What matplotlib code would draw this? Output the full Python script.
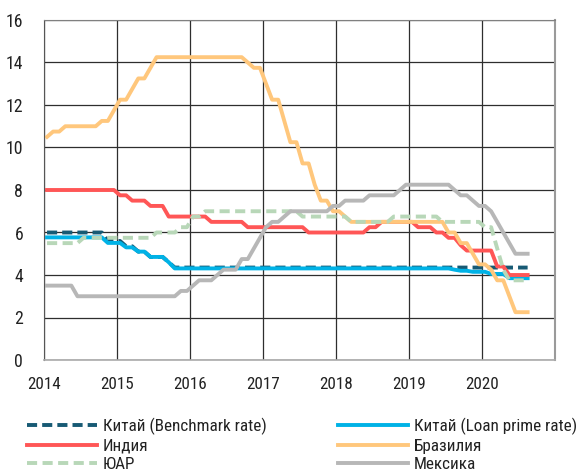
import matplotlib
matplotlib.use("Agg")
import matplotlib.pyplot as plt
import numpy as np

plt.rcParams['font.family'] = ['Roboto Condensed', 'PT Sans', 'DejaVu Sans']

# Monthly observations, Jan 2014 .. Aug 2020
start_year = 2014
china_benchmark = [6.0, 6.0, 6.0, 6.0, 6.0, 6.0, 6.0, 6.0, 6.0, 6.0,
                   5.6, 5.6, 5.6, 5.35, 5.35, 5.1, 5.1, 4.85, 4.85, 4.85,
                   4.6, 4.35, 4.35, 4.35, 4.35, 4.35, 4.35, 4.35, 4.35, 4.35,
                   4.35, 4.35, 4.35, 4.35, 4.35, 4.35, 4.35, 4.35, 4.35, 4.35,
                   4.35, 4.35, 4.35, 4.35, 4.35, 4.35, 4.35, 4.35, 4.35, 4.35,
                   4.35, 4.35, 4.35, 4.35, 4.35, 4.35, 4.35, 4.35, 4.35, 4.35,
                   4.35, 4.35, 4.35, 4.35, 4.35, 4.35, 4.35, 4.35, 4.35, 4.35,
                   4.35, 4.35, 4.35, 4.35, 4.35, 4.35, 4.35, 4.35, 4.35, 4.35]
china_lpr = [5.77, 5.77, 5.77, 5.77, 5.77, 5.77, 5.77, 5.77, 5.77, 5.77,
             5.51, 5.51, 5.51, 5.3, 5.3, 5.1, 5.1, 4.85, 4.85, 4.85,
             4.6, 4.31, 4.31, 4.31, 4.31, 4.31, 4.31, 4.31, 4.31, 4.31,
             4.31, 4.31, 4.31, 4.31, 4.31, 4.31, 4.31, 4.31, 4.31, 4.31,
             4.31, 4.31, 4.31, 4.31, 4.31, 4.31, 4.31, 4.31, 4.31, 4.31,
             4.31, 4.31, 4.31, 4.31, 4.31, 4.31, 4.31, 4.31, 4.31, 4.31,
             4.31, 4.31, 4.31, 4.31, 4.31, 4.31, 4.31, 4.25, 4.2, 4.2,
             4.15, 4.15, 4.15, 4.05, 4.05, 4.05, 3.85, 3.85, 3.85, 3.85]
india = [8.0, 8.0, 8.0, 8.0, 8.0, 8.0, 8.0, 8.0, 8.0, 8.0,
         8.0, 8.0, 7.75, 7.75, 7.5, 7.5, 7.5, 7.25, 7.25, 7.25,
         6.75, 6.75, 6.75, 6.75, 6.75, 6.75, 6.75, 6.5, 6.5, 6.5,
         6.5, 6.5, 6.5, 6.25, 6.25, 6.25, 6.25, 6.25, 6.25, 6.25,
         6.25, 6.25, 6.25, 6.0, 6.0, 6.0, 6.0, 6.0, 6.0, 6.0,
         6.0, 6.0, 6.0, 6.25, 6.25, 6.5, 6.5, 6.5, 6.5, 6.5,
         6.5, 6.25, 6.25, 6.25, 6.0, 6.0, 5.75, 5.75, 5.4, 5.15,
         5.15, 5.15, 5.15, 5.15, 4.4, 4.4, 4.0, 4.0, 4.0, 4.0]
brazil = [10.5, 10.75, 10.75, 11.0, 11.0, 11.0, 11.0, 11.0, 11.0, 11.25,
          11.25, 11.75, 12.25, 12.25, 12.75, 13.25, 13.25, 13.75, 14.25, 14.25,
          14.25, 14.25, 14.25, 14.25, 14.25, 14.25, 14.25, 14.25, 14.25, 14.25,
          14.25, 14.25, 14.25, 14.0, 13.75, 13.75, 13.0, 12.25, 12.25, 11.25,
          10.25, 10.25, 9.25, 9.25, 8.25, 7.5, 7.5, 7.0, 7.0, 6.75,
          6.5, 6.5, 6.5, 6.5, 6.5, 6.5, 6.5, 6.5, 6.5, 6.5,
          6.5, 6.5, 6.5, 6.5, 6.5, 6.5, 6.0, 6.0, 5.5, 5.5,
          5.0, 4.5, 4.5, 4.25, 3.75, 3.75, 3.0, 2.25, 2.25, 2.25]
south_africa = [5.5, 5.5, 5.5, 5.5, 5.5, 5.5, 5.75, 5.75, 5.75, 5.75,
                5.75, 5.75, 5.75, 5.75, 5.75, 5.75, 5.75, 5.75, 6.0, 6.0,
                6.0, 6.0, 6.25, 6.25, 6.75, 6.75, 7.0, 7.0, 7.0, 7.0,
                7.0, 7.0, 7.0, 7.0, 7.0, 7.0, 7.0, 7.0, 7.0, 7.0,
                7.0, 7.0, 6.75, 6.75, 6.75, 6.75, 6.75, 6.75, 6.75, 6.75,
                6.5, 6.5, 6.5, 6.5, 6.5, 6.5, 6.5, 6.75, 6.75, 6.75,
                6.75, 6.75, 6.75, 6.75, 6.75, 6.5, 6.5, 6.5, 6.5, 6.5,
                6.5, 6.5, 6.25, 6.25, 5.25, 4.25, 3.75, 3.75, 3.75, 3.75]
mexico = [3.5, 3.5, 3.5, 3.5, 3.5, 3.0, 3.0, 3.0, 3.0, 3.0,
          3.0, 3.0, 3.0, 3.0, 3.0, 3.0, 3.0, 3.0, 3.0, 3.0,
          3.0, 3.0, 3.25, 3.25, 3.5, 3.75, 3.75, 3.75, 4.0, 4.25,
          4.25, 4.25, 4.75, 4.75, 5.25, 5.75, 6.25, 6.5, 6.5, 6.75,
          7.0, 7.0, 7.0, 7.0, 7.0, 7.0, 7.0, 7.25, 7.25, 7.5,
          7.5, 7.5, 7.5, 7.75, 7.75, 7.75, 7.75, 7.75, 8.0, 8.25,
          8.25, 8.25, 8.25, 8.25, 8.25, 8.25, 8.25, 8.0, 7.75, 7.75,
          7.5, 7.25, 7.25, 7.0, 6.5, 6.0, 5.5, 5.0, 5.0, 5.0]

labels = ['Китай (Benchmark rate)', 'Китай (Loan prime rate)', 'Индия',
          'Бразилия', 'ЮАР', 'Мексика']
year_ticks = [2014, 2015, 2016, 2017, 2018, 2019, 2020]
y_ticks = [0, 2, 4, 6, 8, 10, 12, 14, 16]

n = len(brazil)
x = start_year + (np.arange(n) + 0.5) / 12.0

fig = plt.figure(figsize=(5.78, 4.73), dpi=100)
ax = fig.add_axes([44/578, 1 - 360/473, 511/578, 340/473])

lw = 2.8
h_bench, = ax.plot(x, china_benchmark, color='#175a74', lw=lw, dashes=(2.6, 1.3), label=labels[0])
h_lpr, = ax.plot(x, china_lpr, color='#00b2e6', lw=lw, label=labels[1])
h_ind, = ax.plot(x, india, color='#ff5656', lw=lw, label=labels[2])
h_bra, = ax.plot(x, brazil, color='#ffc77c', lw=lw, label=labels[3])
h_sa, = ax.plot(x, south_africa, color='#b8d7b8', lw=lw, dashes=(2.6, 1.4), label=labels[4])
h_mex, = ax.plot(x, mexico, color='#b7b7b7', lw=lw, label=labels[5])

fs = 12.3
ax.set_xlim(2014, 2021)
ax.set_ylim(0, 16)
ax.set_xticks(year_ticks)
ax.set_xticklabels([str(t) for t in year_ticks])
ax.set_yticks(y_ticks)
ax.tick_params(axis='both', length=0, labelsize=fs, colors='#222222')
ax.tick_params(axis='y', labelsize=12.8, pad=15)
ax.tick_params(axis='x', pad=12)
ax.grid(True, color='#2e2e2e', lw=0.9)
ax.set_axisbelow(True)
ax.spines['top'].set_color('#808080')
ax.spines['left'].set_color('#555555')
ax.spines['right'].set_color('#9a9a9a')
ax.spines['right'].set_linewidth(1.5)
ax.spines['bottom'].set_color('#aaaaaa')
ax.spines['bottom'].set_linewidth(1.2)

leg_kw = dict(loc='upper left', frameon=False, fontsize=fs, handlelength=4.1,
              handletextpad=0.35, labelspacing=0.2, borderpad=0, borderaxespad=0,
              labelcolor='#222222')
leg1 = fig.legend([h_bench, h_ind, h_sa], [labels[0], labels[2], labels[4]],
                  bbox_to_anchor=(27/578, 1 - 418/473), **leg_kw)
leg2 = fig.legend([h_lpr, h_bra, h_mex], [labels[1], labels[3], labels[5]],
                  bbox_to_anchor=(338/578, 1 - 418/473), **leg_kw)

fig.savefig('out.png', dpi=100)
